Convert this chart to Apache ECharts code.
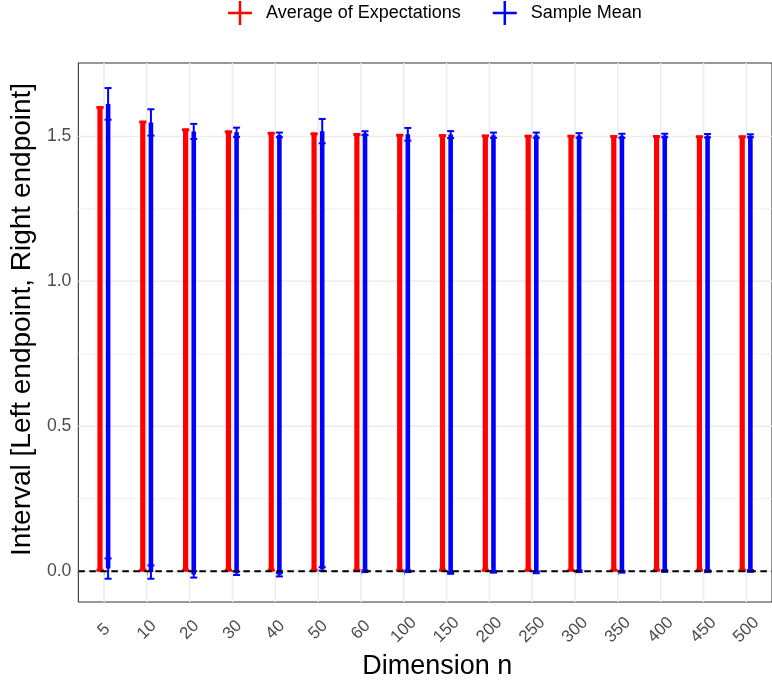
<!DOCTYPE html>
<html>
<head>
<meta charset="utf-8">
<script src="https://cdn.jsdelivr.net/npm/echarts@6/dist/echarts.min.js"></script>
<style>html,body{margin:0;padding:0;background:#fff;}#chart{width:772px;height:685px;}</style>
</head>
<body>
<div id="chart"></div>
<script>
const categories = ['5','10','20','30','40','50','60','100','150','200','250','300','350','400','450','500'];
// Average of Expectations: interval endpoints
const redLeft  = [0,0,0,0,0,0,0,0,0,0,0,0,0,0,0,0];
const redRight = [1.603,1.553,1.526,1.519,1.514,1.512,1.510,1.507,1.506,1.505,1.504,1.504,1.503,1.503,1.502,1.502];
// Sample Mean: endpoint means and half-widths of their error bars
const blueLeft      = [0.009,-0.003,-0.011,-0.007,-0.012,0.008,0.000,0.000,-0.006,-0.002,-0.004,0.000,-0.002,0.001,0.000,0.001];
const blueLeftHalf  = [0.035,0.023,0.011,0.006,0.006,0.006,0.003,0.003,0.003,0.003,0.003,0.003,0.003,0.003,0.003,0.003];
const blueRight     = [1.612,1.548,1.517,1.514,1.505,1.518,1.511,1.507,1.506,1.504,1.504,1.503,1.502,1.503,1.502,1.502];
const blueRightHalf = [0.0546,0.0454,0.026,0.016,0.008,0.042,0.0065,0.022,0.012,0.009,0.009,0.008,0.007,0.006,0.006,0.005];
const yTicks = [0, 0.5, 1.0, 1.5];
const yMinor = [0.25, 0.75, 1.25];

const RED = '#FF0000', BLUE = '#0000FF';
const X_MIN = -0.6, X_MAX = 15.6, Y_MIN = -0.106, Y_MAX = 1.753;
const DODGE = 0.095;
const FONT = "'Liberation Sans', Arial, Helvetica, sans-serif";
const plusIcon = 'path://M10.75,0h2.5v24h-2.5zM0,10.75h24v2.5h-24z';

const idx = categories.map((c, i) => i);
const redData = idx.map(i => [i, redLeft[i], redRight[i]]);
const blueData = idx.map(i => [i, blueLeft[i], blueRight[i], blueLeftHalf[i], blueRightHalf[i]]);

function vGrid(params, api) {
  const i = api.value(0);
  const p1 = api.coord([i, Y_MIN]), p2 = api.coord([i, Y_MAX]);
  return {type:'line', shape:{x1:p1[0], y1:p1[1], x2:p2[0], y2:p2[1]}, style:{stroke:'#ebebeb', lineWidth:1.5}};
}
function hGrid(w) {
  return function(params, api) {
    const v = api.value(0);
    const p1 = api.coord([X_MIN, v]), p2 = api.coord([X_MAX, v]);
    return {type:'line', shape:{x1:p1[0], y1:p1[1], x2:p2[0], y2:p2[1]}, style:{stroke:'#ebebeb', lineWidth:w}};
  };
}
function zeroLine(params, api) {
  const v = api.value(0);
  const p1 = api.coord([X_MIN, v]), p2 = api.coord([X_MAX, v]);
  return {type:'line', shape:{x1:p1[0], y1:p1[1], x2:p2[0], y2:p2[1]}, style:{stroke:'#000', lineWidth:2, lineDash:[6.5,4.5]}};
}
function redItem(params, api) {
  const i = api.value(0);
  const x = api.coord([i - DODGE, 0])[0];
  const yl = api.coord([i, api.value(1)])[1];
  const yr = api.coord([i, api.value(2)])[1];
  return {type:'group', children:[
    {type:'rect', shape:{x:x-2.6, y:yr, width:5.2, height:yl-yr}, style:{fill:RED}},
    {type:'rect', shape:{x:x-3.6, y:yr-0.5, width:7.2, height:3}, style:{fill:RED}},
    {type:'rect', shape:{x:x-3.6, y:yl-2.5, width:7.2, height:3}, style:{fill:RED}}
  ]};
}
function errBar(x, m, h, api) {
  const yTop = api.coord([0, m + h])[1];
  const yBot = api.coord([0, m - h])[1];
  return [
    {type:'line', shape:{x1:x, y1:yTop, x2:x, y2:yBot}, style:{stroke:BLUE, lineWidth:2}},
    {type:'line', shape:{x1:x-3.5, y1:yTop, x2:x+3.5, y2:yTop}, style:{stroke:BLUE, lineWidth:2}},
    {type:'line', shape:{x1:x-3.5, y1:yBot, x2:x+3.5, y2:yBot}, style:{stroke:BLUE, lineWidth:2}}
  ];
}
function blueItem(params, api) {
  const i = api.value(0);
  const x = api.coord([i + DODGE, 0])[0];
  const l = api.value(1), r = api.value(2);
  const yl = api.coord([i, l])[1];
  const yr = api.coord([i, r])[1];
  const children = [
    {type:'rect', shape:{x:x-2.3, y:yr, width:4.6, height:yl-yr}, style:{fill:BLUE}}
  ].concat(errBar(x, l, api.value(3), api), errBar(x, r, api.value(4), api));
  return {type:'group', children};
}

const chart = echarts.init(document.getElementById('chart'), null, {renderer:'canvas'});
chart.setOption({
  animation: false,
  backgroundColor: '#fff',
  textStyle: {fontFamily: FONT},
  legend: {
    left: 228, top: 1, padding: 0,
    itemWidth: 24, itemHeight: 24, itemGap: 32,
    textStyle: {fontFamily: FONT, fontSize: 18, color: '#000', padding: [0,0,0,9]},
    data: [
      {name:'Average of Expectations', icon: plusIcon},
      {name:'Sample Mean', icon: plusIcon}
    ]
  },
  grid: {left: 77, right: -3, top: 63, bottom: 75, show: true, borderColor: '#333', borderWidth: 1.1, backgroundColor: 'transparent'},
  xAxis: {
    type: 'value', min: X_MIN, max: X_MAX,
    name: 'Dimension n', nameLocation: 'middle', nameGap: 42,
    nameTextStyle: {fontFamily: FONT, fontSize: 27, color: '#000', padding: [0,0,0,24]},
    axisLine: {show: false},
    splitLine: {show: false},
    axisTick: {show: true, customValues: idx, length: 4, lineStyle: {color: '#333', width: 1.1}},
    axisLabel: {customValues: idx, formatter: v => categories[Math.round(v)], rotate: 45,
      align: 'center', verticalAlign: 'middle', margin: 28,
      fontFamily: FONT, fontSize: 17, color: '#4d4d4d'}
  },
  yAxis: {
    type: 'value', min: Y_MIN, max: Y_MAX,
    name: 'Interval [Left endpoint, Right endpoint]', nameLocation: 'middle', nameGap: 40,
    nameTextStyle: {fontFamily: FONT, fontSize: 28, color: '#000', padding: [0,0,0,26]},
    axisLine: {show: false},
    splitLine: {show: false},
    axisTick: {show: true, customValues: yTicks, length: 4, lineStyle: {color: '#333', width: 1.1}},
    axisLabel: {customValues: yTicks, formatter: v => v.toFixed(1), margin: 7,
      fontFamily: FONT, fontSize: 17.6, color: '#4d4d4d'}
  },
  series: [
    {type:'custom', name:'vgrid', silent:true, z:1, data: idx.map(i => [i]), renderItem: vGrid, encode:{x:0}},
    {type:'custom', name:'hgridMinor', silent:true, z:1, data: yMinor.map(v => [v]), renderItem: hGrid(0.7), encode:{y:0}},
    {type:'custom', name:'hgridMajor', silent:true, z:1, data: yTicks.map(v => [v]), renderItem: hGrid(1.4), encode:{y:0}},
    {type:'custom', name:'Average of Expectations', z:3, itemStyle:{color:RED}, data: redData, renderItem: redItem, encode:{x:0, y:[1,2]}},
    {type:'custom', name:'Sample Mean', z:4, itemStyle:{color:BLUE}, data: blueData, renderItem: blueItem, encode:{x:0, y:[1,2]}},
    {type:'custom', name:'zero', silent:true, z:6, data: [[0]], renderItem: zeroLine, encode:{y:0}}
  ]
});
</script>
</body>
</html>
